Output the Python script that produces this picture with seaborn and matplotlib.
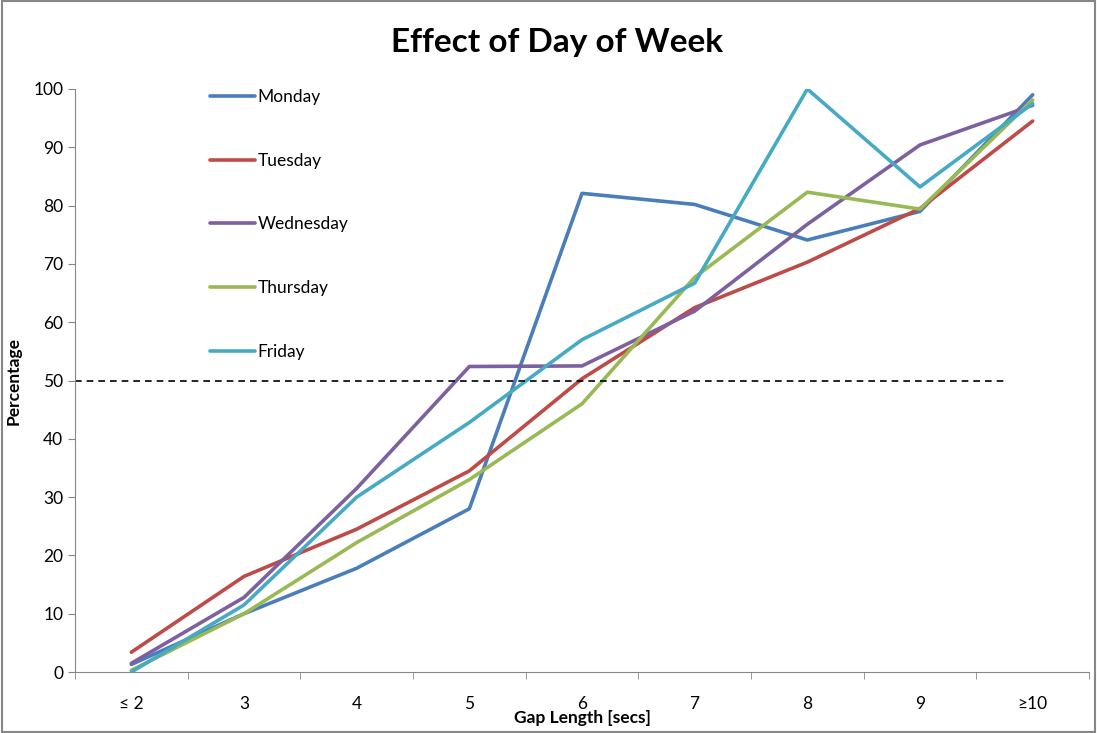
import numpy as np
import pandas as pd
import seaborn as sns
import matplotlib.pyplot as plt

# 데이터
gap_labels = ['≤ 2', '3', '4', '5', '6', '7', '8', '9', '≥10']
days = ['Monday', 'Tuesday', 'Wednesday', 'Thursday', 'Friday']
monday = [1.3, 10.0, 17.8, 28.0, 82.1, 80.2, 74.1, 79.0, 99.0]
tuesday = [3.4, 16.4, 24.5, 34.5, 50.3, 62.5, 70.3, 79.5, 94.5]
wednesday = [1.5, 12.8, 31.5, 52.4, 52.5, 61.9, 76.8, 90.4, 97.2]
thursday = [0.3, 10.0, 22.2, 33.0, 46.0, 67.7, 82.3, 79.4, 98.1]
friday = [0.0, 11.5, 30.0, 42.8, 57.0, 66.7, 100.0, 83.2, 97.5]
colors = ['#4A7EBB', '#BE4B48', '#7D60A0', '#98B954', '#46AAC5']

df = pd.DataFrame({'gap': range(len(gap_labels)),
                   'Monday': monday, 'Tuesday': tuesday, 'Wednesday': wednesday,
                   'Thursday': thursday, 'Friday': friday})
data = df.melt(id_vars='gap', var_name='day', value_name='pct')

sns.set_style('white')
plt.rcParams['font.family'] = ['Lato', 'DejaVu Sans']
plt.rcParams['text.color'] = 'black'
plt.rcParams['xtick.color'] = 'black'
plt.rcParams['ytick.color'] = 'black'
plt.rcParams['axes.labelcolor'] = 'black'

fig = plt.figure(figsize=(10.97, 7.33), dpi=100)
ax = fig.add_axes([0.0684, 0.0832, 0.9243, 0.7954])

sns.lineplot(data=data, x='gap', y='pct', hue='day', hue_order=days,
             palette=colors, linewidth=2.6, sort=False, ax=ax)

ax.axhline(50, xmin=0, xmax=0.917, color='black', linestyle='--', linewidth=1.2, dashes=(4, 3))

ax.set_xlim(-0.5, len(gap_labels) - 0.5)
ax.set_ylim(0, 100)
ax.set_yticks(range(0, 101, 10))
ax.set_xticks(range(len(gap_labels)))
ax.set_xticklabels(gap_labels)
ax.set_xticks(np.arange(-0.5, len(gap_labels), 1), minor=True)
ax.tick_params(axis='x', which='major', length=0, pad=17, labelsize=12.5)
ax.tick_params(axis='x', which='minor', length=5, color='#868686', direction='out', bottom=True)
ax.tick_params(axis='y', length=5, color='#868686', direction='out', left=True, labelsize=12.5)

for s in ['top', 'right']:
    ax.spines[s].set_visible(False)
for s in ['left', 'bottom']:
    ax.spines[s].set_color('#868686')

ax.set_xlabel('Gap Length [secs]', fontsize=12.5, fontweight='bold', labelpad=-1)
ax.set_ylabel('Percentage', fontsize=12.5, fontweight='bold', labelpad=8)
fig.suptitle('Effect of Day of Week', fontsize=24, fontweight='bold', y=0.962, x=0.508)

ax.legend(frameon=False, loc='upper left', bbox_to_anchor=(0.177, 0.9),
          bbox_transform=fig.transFigure, fontsize=12.5, labelspacing=2.75,
          handlelength=2.6, handletextpad=0.15)

fig.patches.append(plt.Rectangle((0.002, 0.002), 0.996, 0.996, transform=fig.transFigure,
                                 fill=False, edgecolor='#868686', linewidth=1.5))

plt.savefig('out.png', dpi=100)
